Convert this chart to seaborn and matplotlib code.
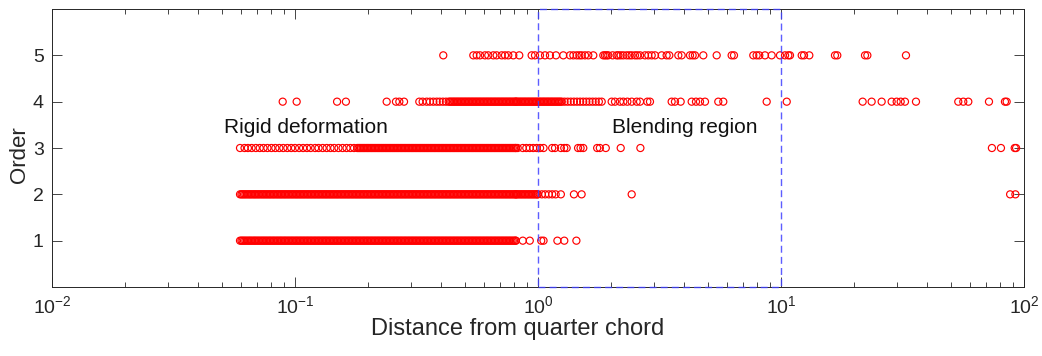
import matplotlib
matplotlib.use("Agg")
import matplotlib.pyplot as plt
import matplotlib.patches as mpatches
import numpy as np
import pandas as pd
import seaborn as sns

# ---------------- data ----------------
order_levels = [1, 2, 3, 4, 5]

# dense band that starts every low-order row (solid run of circles in the picture)
band_low = [0.0594, 0.0602, 0.0609, 0.0617, 0.0625, 0.0633, 0.0642, 0.0650, 0.0658, 0.0667,
            0.0676, 0.0684, 0.0693, 0.0702, 0.0711, 0.0721, 0.0730, 0.0740, 0.0749, 0.0759,
            0.0769, 0.0779, 0.0789, 0.0799, 0.0810, 0.0820, 0.0831, 0.0842, 0.0853, 0.0864,
            0.0875, 0.0886, 0.0898, 0.0909, 0.0921, 0.0933, 0.0945, 0.0958, 0.0970, 0.0983,
            0.0996, 0.1009, 0.1022, 0.1035, 0.1049, 0.1062, 0.1076, 0.1090, 0.1104, 0.1119,
            0.1133, 0.1148, 0.1163, 0.1178, 0.1194, 0.1209, 0.1225, 0.1241, 0.1257, 0.1273,
            0.1290, 0.1307, 0.1324, 0.1341, 0.1358, 0.1376, 0.1394, 0.1412, 0.1430, 0.1449,
            0.1468, 0.1487, 0.1506, 0.1526, 0.1546, 0.1566, 0.1586, 0.1607, 0.1628, 0.1649,
            0.1670, 0.1692, 0.1714, 0.1736, 0.1759, 0.1782]

band_mid = [0.1805, 0.1828, 0.1852, 0.1876, 0.1901, 0.1925, 0.1950, 0.1976, 0.2001, 0.2027,
            0.2054, 0.2080, 0.2107, 0.2135, 0.2163, 0.2191, 0.2219, 0.2248, 0.2277, 0.2307,
            0.2337, 0.2367, 0.2398, 0.2429, 0.2461, 0.2493, 0.2525, 0.2558, 0.2591, 0.2625,
            0.2659, 0.2694, 0.2729, 0.2764, 0.2800, 0.2837, 0.2873, 0.2911, 0.2949, 0.2987,
            0.3026, 0.3065, 0.3105, 0.3145, 0.3186, 0.3228, 0.3270, 0.3312, 0.3355, 0.3399,
            0.3443, 0.3488, 0.3533, 0.3579, 0.3626, 0.3673, 0.3721, 0.3769, 0.3818, 0.3868,
            0.3918, 0.3969, 0.4021, 0.4073, 0.4126, 0.4180, 0.4234]

band_high = [0.4289, 0.4345, 0.4401, 0.4459, 0.4517, 0.4575, 0.4635, 0.4695, 0.4756, 0.4818,
             0.4881, 0.4944, 0.5009, 0.5074, 0.5140, 0.5207, 0.5274, 0.5343, 0.5412, 0.5483,
             0.5554, 0.5626, 0.5699, 0.5773, 0.5848, 0.5924, 0.6002, 0.6080, 0.6159, 0.6239,
             0.6320, 0.6402, 0.6485, 0.6570, 0.6655, 0.6742, 0.6829, 0.6918, 0.7008, 0.7099,
             0.7192, 0.7285, 0.7380, 0.7476, 0.7573, 0.7671, 0.7771, 0.7872, 0.7974, 0.8078,
             0.8110]

band_top = [0.8183, 0.8289, 0.8397, 0.8506, 0.8617, 0.8729, 0.8842, 0.8957, 0.9074, 0.9192,
            0.9311, 0.9432, 0.9555, 0.9679, 0.9805, 0.9932, 1.006, 1.019, 1.032, 1.046,
            1.059, 1.073, 1.087, 1.101, 1.115, 1.130, 1.144, 1.159, 1.174, 1.190,
            1.205, 1.221, 1.237, 1.253]

sparse_order1 = [0.866, 0.925, 1.031, 1.054, 1.202, 1.283, 1.439]

sparse_order2 = [0.8183, 0.8289, 0.8397, 0.8506, 0.8617, 0.8729, 0.8842, 0.8957, 0.9074,
                 0.9192, 0.9311, 0.9432, 0.9555, 0.9679, 0.9805, 0.9932, 1.000,
                 1.037, 1.071, 1.108, 1.144, 1.182, 1.242, 1.406, 1.512, 2.43, 87.7, 92.2]

left_order3 = [0.0594, 0.0620, 0.0640, 0.0663, 0.0690, 0.0716, 0.0742, 0.0770, 0.0800, 0.0830,
               0.0862, 0.0895, 0.0930, 0.0965, 0.100, 0.104, 0.108, 0.112, 0.116, 0.121,
               0.125, 0.130, 0.135, 0.140, 0.145, 0.151, 0.157, 0.163, 0.169, 0.175]

sparse_order3 = [0.825, 0.866, 0.895, 0.925, 0.956, 0.988, 1.020, 1.054, 1.144, 1.175, 1.242,
                 1.283, 1.312, 1.462, 1.497, 1.536, 1.752, 1.797, 1.901, 2.190, 2.639,
                 73.8, 80.4, 91.6, 92.8]

left_order4 = [0.0890, 0.1016, 0.149, 0.162, 0.2384, 0.2603, 0.2688, 0.2810, 0.3248, 0.3352,
               0.3483, 0.3593, 0.3710, 0.383, 0.394, 0.406, 0.418]

sparse_order4 = [1.286, 1.324, 1.364, 1.405, 1.447, 1.491, 1.535, 1.581, 1.629,
                 1.678, 1.728, 1.780, 1.829,
                 2.010, 2.075, 2.175, 2.245, 2.332, 2.430, 2.548, 2.630, 2.818, 2.890,
                 3.549, 3.662, 3.865, 4.290, 4.469, 4.642, 4.867, 5.521, 5.789, 8.733,
                 10.56, 21.68, 23.61, 25.96, 28.54, 29.93, 31.09, 32.38, 35.94, 53.66,
                 56.27, 59.01, 71.78, 83.5, 84.86]

dist_order5 = [0.4076, 0.5418, 0.5595, 0.5772, 0.6051, 0.6243, 0.6547, 0.6761, 0.7089, 0.7315,
               0.7548, 0.7914, 0.8375, 0.9417, 0.9720, 1.019, 1.069, 1.120, 1.186, 1.271,
               1.354, 1.398, 1.443, 1.480, 1.512, 1.561, 1.611, 1.689, 1.857, 1.887,
               1.917, 1.946, 2.029, 2.107, 2.141, 2.189, 2.245, 2.317, 2.376, 2.430,
               2.507, 2.563, 2.630, 2.756, 2.844, 2.937, 3.031, 3.228, 3.384, 3.471,
               3.780, 3.902, 4.222, 4.330, 4.427, 4.790, 5.437, 6.266, 6.406, 7.692,
               7.939, 8.142, 8.594, 9.155, 9.906, 10.39, 10.72, 10.89, 12.17, 12.44,
               13.08, 16.68, 17.05, 22.17, 22.67, 32.69]

dist_order1 = band_low + band_mid + band_high + sparse_order1
dist_order2 = band_low + band_mid + band_high + sparse_order2
dist_order3 = left_order3 + band_mid + band_high + sparse_order3
dist_order4 = left_order4 + band_high + band_top + sparse_order4

blend_region = [1.0, 10.0]      # x extent of the blending region box
x_limits = [1e-2, 1e2]
y_limits = [0, 6]
y_ticks = [1, 2, 3, 4, 5]
annotations = [("Rigid deformation", 0.051, 3.45), ("Blending region", 2.02, 3.45)]
x_label = "Distance from quarter chord"
y_label = "Order"

# ---------------- build table ----------------
all_dists = [dist_order1, dist_order2, dist_order3, dist_order4, dist_order5]
df = pd.DataFrame({
    "distance": np.concatenate([np.asarray(d, float) for d in all_dists]),
    "order": np.concatenate([np.full(len(d), o) for d, o in zip(all_dists, order_levels)]),
})

# ---------------- style ----------------
sns.set_theme(style="ticks")
plt.rcParams["font.family"] = ["Liberation Sans", "DejaVu Sans"]
plt.rcParams["mathtext.fontset"] = "custom"
plt.rcParams["mathtext.rm"] = "Liberation Sans"
plt.rcParams["mathtext.it"] = "Liberation Sans:italic"
plt.rcParams["mathtext.bf"] = "Liberation Sans:bold"
plt.rcParams["mathtext.sf"] = "Liberation Sans"
plt.rcParams["mathtext.default"] = "regular"

ink = "#262626"
fig = plt.figure(figsize=(10.42, 3.56), dpi=100)
ax = fig.add_axes([0.0499, 0.1938, 0.9328, 0.7809])

ax.set_xscale("log")
sns.scatterplot(data=df, x="distance", y="order", ax=ax, marker="o", s=26,
                color="red", edgecolor="red", linewidth=0.85, legend=False)
for coll in ax.collections:
    coll.set_facecolor("none")
    coll.set_edgecolor((1, 0, 0))

# blending region box
ax.add_patch(mpatches.Rectangle((blend_region[0], y_limits[0]),
                                blend_region[1] - blend_region[0],
                                y_limits[1] - y_limits[0],
                                fill=False, edgecolor="#4040ff", linestyle=(0, (5, 3)),
                                linewidth=1.0, alpha=0.85, zorder=3, clip_on=False))

for txt, xx, yy in annotations:
    ax.text(xx, yy, txt, fontsize=15, color="#111111", ha="left", va="center")

ax.set_xlim(*x_limits)
ax.set_ylim(*y_limits)
ax.set_yticks(y_ticks)
ax.set_xlabel(x_label, fontsize=17, color=ink)
ax.set_ylabel(y_label, fontsize=16, color=ink)
ax.xaxis.set_label_coords(0.479, -0.112)
ax.yaxis.set_label_coords(-0.023, 0.475)

ax.tick_params(which="both", direction="in", top=True, right=True, colors=ink,
               labelsize=14, width=0.6)
ax.tick_params(which="major", length=7, pad=6)
ax.tick_params(which="minor", length=3.5)
ax.tick_params(axis="y", which="minor", left=False, right=False)
for sp in ax.spines.values():
    sp.set_visible(True)
    sp.set_color(ink)
    sp.set_linewidth(0.7)

fig.savefig("out.png", dpi=100)
